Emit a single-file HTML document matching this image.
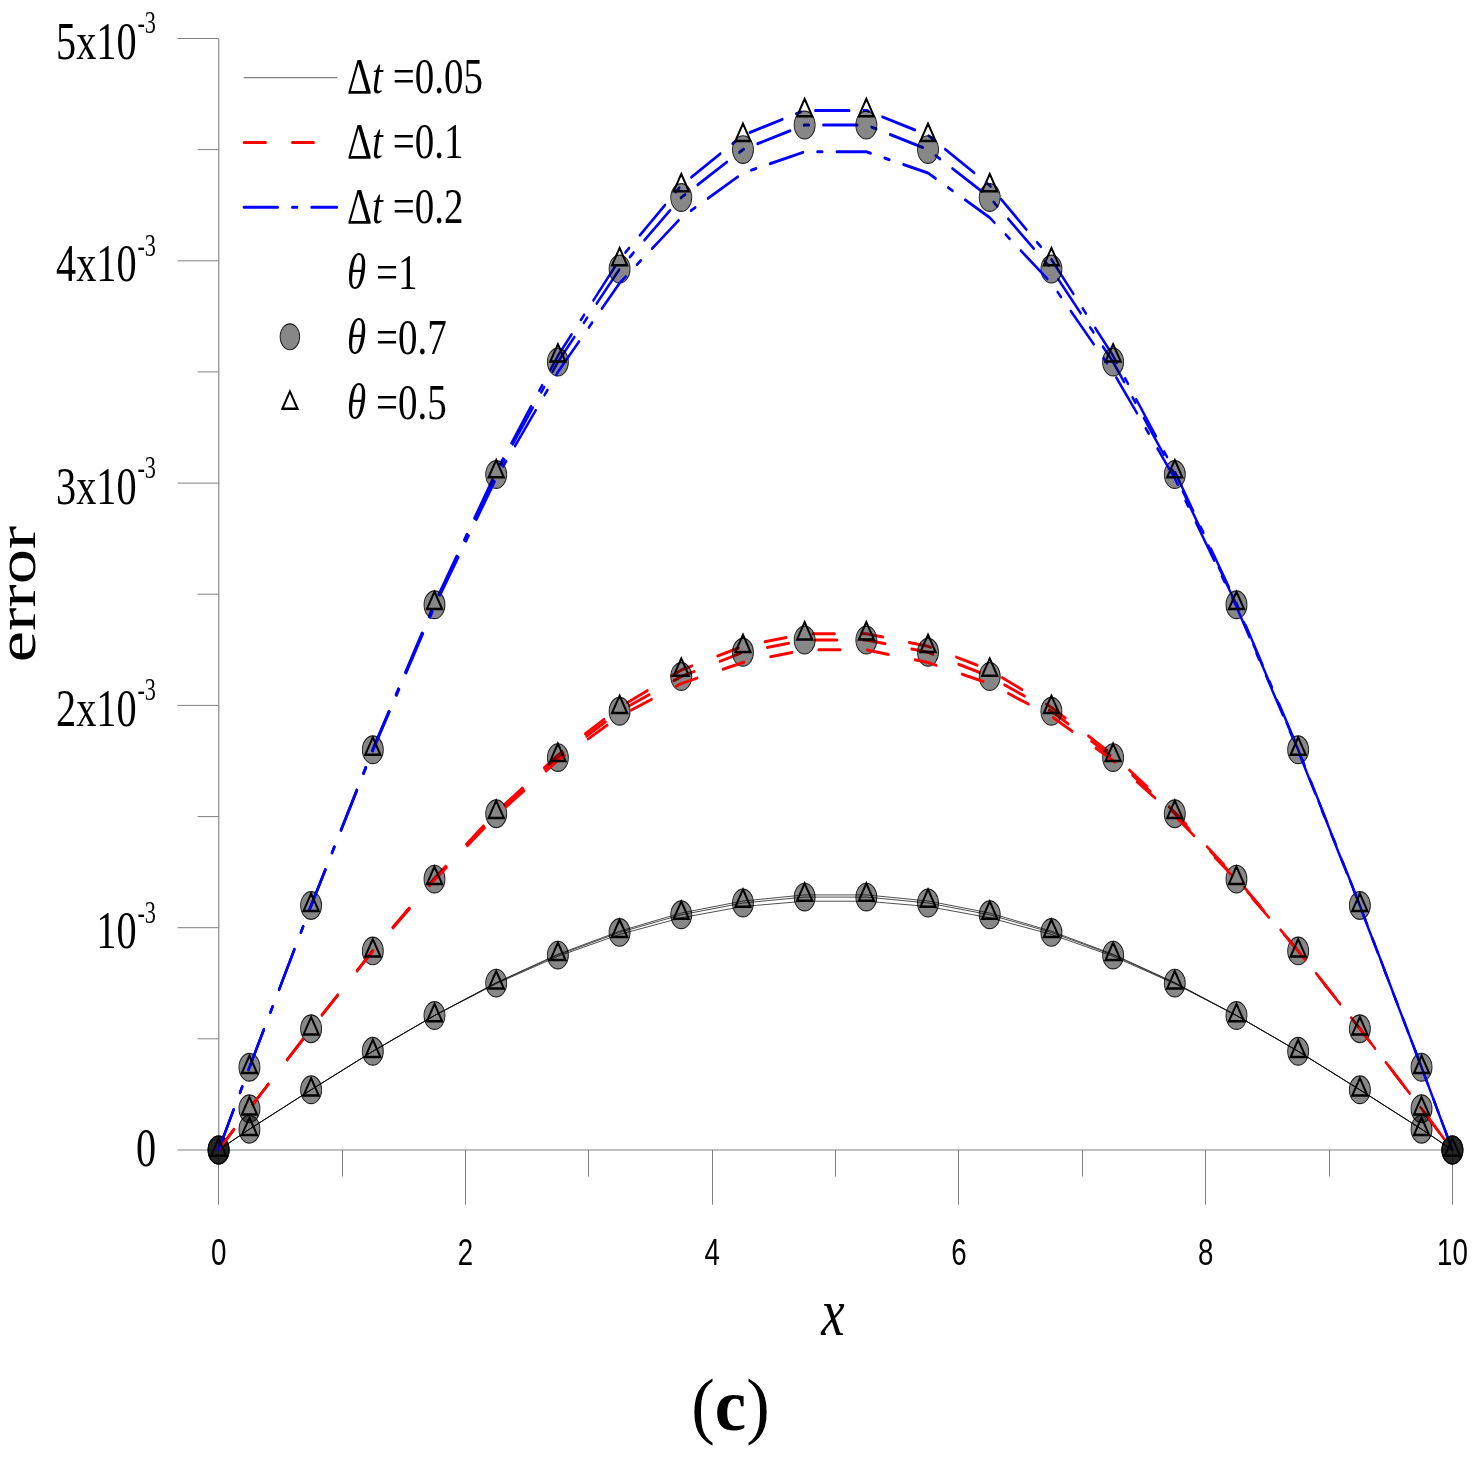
<!DOCTYPE html><html><head><meta charset="utf-8"><style>html,body{margin:0;padding:0;background:#fff;overflow:hidden;}svg{display:block;}</style></head><body>
<svg width="1480" height="1462" viewBox="0 0 1480 1462">
<rect width="1480" height="1462" fill="#fff"/>
<path d="M218.7 38.5V1150" stroke="#9a9a9a" stroke-width="1.4" fill="none"/>
<path d="M218.5 1150H1452.9" stroke="#808080" stroke-width="1" fill="none"/>
<path d="M177.6 1150.0H218.5 M197.6 1038.8H218.5 M177.6 927.7H218.5 M197.6 816.6H218.5 M177.6 705.4H218.5 M197.6 594.2H218.5 M177.6 483.1H218.5 M197.6 371.9H218.5 M177.6 260.8H218.5 M197.6 149.6H218.5 M177.6 38.5H218.5 M218.5 1150V1204.7 M342.5 1150V1176.5 M465.5 1150V1204.7 M588.5 1150V1176.5 M712.5 1150V1204.7 M835.5 1150V1176.5 M958.5 1150V1204.7 M1082.5 1150V1176.5 M1205.5 1150V1204.7 M1329.5 1150V1176.5 M1452.5 1150V1204.7" stroke="#808080" stroke-width="1" fill="none"/>
<g transform="scale(1,1.32)">
<polyline points="218.60,871.21 249.44,855.45 311.13,825.61 372.82,796.44 434.51,769.32 496.21,744.39 557.89,722.95 619.59,705.45 681.27,691.67 742.97,682.58 804.65,677.95 866.35,677.95 928.03,682.58 989.73,691.67 1051.41,705.45 1113.11,722.95 1174.79,744.39 1236.48,769.32 1298.17,796.44 1359.86,825.61 1421.55,855.45 1452.40,871.21" stroke="#000" stroke-width="0.6" fill="none"/>
<polyline points="218.60,871.21 249.44,839.92 311.13,779.32 372.82,720.15 434.51,665.23 496.21,615.30 557.89,572.05 619.59,535.83 681.27,507.58 742.97,489.62 804.65,480.08 866.35,480.08 928.03,489.62 989.73,507.58 1051.41,535.83 1113.11,572.05 1174.79,615.30 1236.48,665.23 1298.17,720.15 1359.86,779.32 1421.55,839.92 1452.40,871.21" stroke="#f00" stroke-width="2.3" fill="none" stroke-dasharray="21.89 26.6" stroke-linecap="round" stroke-linejoin="round"/>
<polyline points="218.60,871.21 249.44,808.56 311.13,685.76 372.82,567.42 434.51,457.05 496.21,357.20 557.89,269.55 619.59,196.59 681.27,140.53 742.97,102.42 804.65,83.64 866.35,83.64 928.03,102.42 989.73,140.53 1051.41,196.59 1113.11,269.55 1174.79,357.20 1236.48,457.05 1298.17,567.42 1359.86,685.76 1421.55,808.56 1452.40,871.21" stroke="#00f" stroke-width="2.3" fill="none" stroke-dasharray="34.04 14.46 4.92 14.46" stroke-linecap="round" stroke-linejoin="round"/>
<polyline points="218.60,871.21 249.44,855.45 311.13,825.61 372.82,796.44 434.51,769.32 496.21,744.77 557.89,723.56 619.59,706.36 681.27,693.03 742.97,684.09 804.65,679.62 866.35,679.62 928.03,684.09 989.73,693.03 1051.41,706.36 1113.11,723.56 1174.79,744.77 1236.48,769.32 1298.17,796.44 1359.86,825.61 1421.55,855.45 1452.40,871.21" stroke="#000" stroke-width="0.6" fill="none"/>
<polyline points="218.60,871.21 249.44,839.92 311.13,779.32 372.82,720.38 434.51,665.98 496.21,616.44 557.89,573.94 619.59,538.86 681.27,512.50 742.97,494.17 804.65,484.85 866.35,484.85 928.03,494.17 989.73,512.50 1051.41,538.86 1113.11,573.94 1174.79,616.44 1236.48,665.98 1298.17,720.38 1359.86,779.32 1421.55,839.92 1452.40,871.21" stroke="#f00" stroke-width="2.3" fill="none" stroke-dasharray="21.89 26.6" stroke-linecap="round" stroke-linejoin="round"/>
<polyline points="218.60,871.21 249.44,808.56 311.13,685.98 372.82,568.03 434.51,458.18 496.21,359.47 557.89,274.24 619.59,203.79 681.27,149.62 742.97,113.33 804.65,94.70 866.35,94.70 928.03,113.33 989.73,149.62 1051.41,203.79 1113.11,274.24 1174.79,359.47 1236.48,458.18 1298.17,568.03 1359.86,685.98 1421.55,808.56 1452.40,871.21" stroke="#00f" stroke-width="2.3" fill="none" stroke-dasharray="34.04 14.46 4.92 14.46" stroke-linecap="round" stroke-linejoin="round"/>
<circle cx="218.60" cy="871.21" r="10.5" fill="#000" fill-opacity="0.47" stroke="#000" stroke-opacity="0.85" stroke-width="0.9"/>
<circle cx="249.44" cy="855.45" r="10.5" fill="#000" fill-opacity="0.47" stroke="#000" stroke-opacity="0.85" stroke-width="0.9"/>
<circle cx="311.13" cy="825.61" r="10.5" fill="#000" fill-opacity="0.47" stroke="#000" stroke-opacity="0.85" stroke-width="0.9"/>
<circle cx="372.82" cy="796.44" r="10.5" fill="#000" fill-opacity="0.47" stroke="#000" stroke-opacity="0.85" stroke-width="0.9"/>
<circle cx="434.51" cy="769.32" r="10.5" fill="#000" fill-opacity="0.47" stroke="#000" stroke-opacity="0.85" stroke-width="0.9"/>
<circle cx="496.21" cy="744.77" r="10.5" fill="#000" fill-opacity="0.47" stroke="#000" stroke-opacity="0.85" stroke-width="0.9"/>
<circle cx="557.89" cy="723.56" r="10.5" fill="#000" fill-opacity="0.47" stroke="#000" stroke-opacity="0.85" stroke-width="0.9"/>
<circle cx="619.59" cy="706.36" r="10.5" fill="#000" fill-opacity="0.47" stroke="#000" stroke-opacity="0.85" stroke-width="0.9"/>
<circle cx="681.27" cy="693.03" r="10.5" fill="#000" fill-opacity="0.47" stroke="#000" stroke-opacity="0.85" stroke-width="0.9"/>
<circle cx="742.97" cy="684.09" r="10.5" fill="#000" fill-opacity="0.47" stroke="#000" stroke-opacity="0.85" stroke-width="0.9"/>
<circle cx="804.65" cy="679.62" r="10.5" fill="#000" fill-opacity="0.47" stroke="#000" stroke-opacity="0.85" stroke-width="0.9"/>
<circle cx="866.35" cy="679.62" r="10.5" fill="#000" fill-opacity="0.47" stroke="#000" stroke-opacity="0.85" stroke-width="0.9"/>
<circle cx="928.03" cy="684.09" r="10.5" fill="#000" fill-opacity="0.47" stroke="#000" stroke-opacity="0.85" stroke-width="0.9"/>
<circle cx="989.73" cy="693.03" r="10.5" fill="#000" fill-opacity="0.47" stroke="#000" stroke-opacity="0.85" stroke-width="0.9"/>
<circle cx="1051.41" cy="706.36" r="10.5" fill="#000" fill-opacity="0.47" stroke="#000" stroke-opacity="0.85" stroke-width="0.9"/>
<circle cx="1113.11" cy="723.56" r="10.5" fill="#000" fill-opacity="0.47" stroke="#000" stroke-opacity="0.85" stroke-width="0.9"/>
<circle cx="1174.79" cy="744.77" r="10.5" fill="#000" fill-opacity="0.47" stroke="#000" stroke-opacity="0.85" stroke-width="0.9"/>
<circle cx="1236.48" cy="769.32" r="10.5" fill="#000" fill-opacity="0.47" stroke="#000" stroke-opacity="0.85" stroke-width="0.9"/>
<circle cx="1298.17" cy="796.44" r="10.5" fill="#000" fill-opacity="0.47" stroke="#000" stroke-opacity="0.85" stroke-width="0.9"/>
<circle cx="1359.86" cy="825.61" r="10.5" fill="#000" fill-opacity="0.47" stroke="#000" stroke-opacity="0.85" stroke-width="0.9"/>
<circle cx="1421.55" cy="855.45" r="10.5" fill="#000" fill-opacity="0.47" stroke="#000" stroke-opacity="0.85" stroke-width="0.9"/>
<circle cx="1452.40" cy="871.21" r="10.5" fill="#000" fill-opacity="0.47" stroke="#000" stroke-opacity="0.85" stroke-width="0.9"/>
<circle cx="218.60" cy="871.21" r="10.5" fill="#000" fill-opacity="0.47" stroke="#000" stroke-opacity="0.85" stroke-width="0.9"/>
<circle cx="249.44" cy="839.92" r="10.5" fill="#000" fill-opacity="0.47" stroke="#000" stroke-opacity="0.85" stroke-width="0.9"/>
<circle cx="311.13" cy="779.32" r="10.5" fill="#000" fill-opacity="0.47" stroke="#000" stroke-opacity="0.85" stroke-width="0.9"/>
<circle cx="372.82" cy="720.38" r="10.5" fill="#000" fill-opacity="0.47" stroke="#000" stroke-opacity="0.85" stroke-width="0.9"/>
<circle cx="434.51" cy="665.98" r="10.5" fill="#000" fill-opacity="0.47" stroke="#000" stroke-opacity="0.85" stroke-width="0.9"/>
<circle cx="496.21" cy="616.44" r="10.5" fill="#000" fill-opacity="0.47" stroke="#000" stroke-opacity="0.85" stroke-width="0.9"/>
<circle cx="557.89" cy="573.94" r="10.5" fill="#000" fill-opacity="0.47" stroke="#000" stroke-opacity="0.85" stroke-width="0.9"/>
<circle cx="619.59" cy="538.86" r="10.5" fill="#000" fill-opacity="0.47" stroke="#000" stroke-opacity="0.85" stroke-width="0.9"/>
<circle cx="681.27" cy="512.50" r="10.5" fill="#000" fill-opacity="0.47" stroke="#000" stroke-opacity="0.85" stroke-width="0.9"/>
<circle cx="742.97" cy="494.17" r="10.5" fill="#000" fill-opacity="0.47" stroke="#000" stroke-opacity="0.85" stroke-width="0.9"/>
<circle cx="804.65" cy="484.85" r="10.5" fill="#000" fill-opacity="0.47" stroke="#000" stroke-opacity="0.85" stroke-width="0.9"/>
<circle cx="866.35" cy="484.85" r="10.5" fill="#000" fill-opacity="0.47" stroke="#000" stroke-opacity="0.85" stroke-width="0.9"/>
<circle cx="928.03" cy="494.17" r="10.5" fill="#000" fill-opacity="0.47" stroke="#000" stroke-opacity="0.85" stroke-width="0.9"/>
<circle cx="989.73" cy="512.50" r="10.5" fill="#000" fill-opacity="0.47" stroke="#000" stroke-opacity="0.85" stroke-width="0.9"/>
<circle cx="1051.41" cy="538.86" r="10.5" fill="#000" fill-opacity="0.47" stroke="#000" stroke-opacity="0.85" stroke-width="0.9"/>
<circle cx="1113.11" cy="573.94" r="10.5" fill="#000" fill-opacity="0.47" stroke="#000" stroke-opacity="0.85" stroke-width="0.9"/>
<circle cx="1174.79" cy="616.44" r="10.5" fill="#000" fill-opacity="0.47" stroke="#000" stroke-opacity="0.85" stroke-width="0.9"/>
<circle cx="1236.48" cy="665.98" r="10.5" fill="#000" fill-opacity="0.47" stroke="#000" stroke-opacity="0.85" stroke-width="0.9"/>
<circle cx="1298.17" cy="720.38" r="10.5" fill="#000" fill-opacity="0.47" stroke="#000" stroke-opacity="0.85" stroke-width="0.9"/>
<circle cx="1359.86" cy="779.32" r="10.5" fill="#000" fill-opacity="0.47" stroke="#000" stroke-opacity="0.85" stroke-width="0.9"/>
<circle cx="1421.55" cy="839.92" r="10.5" fill="#000" fill-opacity="0.47" stroke="#000" stroke-opacity="0.85" stroke-width="0.9"/>
<circle cx="1452.40" cy="871.21" r="10.5" fill="#000" fill-opacity="0.47" stroke="#000" stroke-opacity="0.85" stroke-width="0.9"/>
<circle cx="218.60" cy="871.21" r="10.5" fill="#000" fill-opacity="0.47" stroke="#000" stroke-opacity="0.85" stroke-width="0.9"/>
<circle cx="249.44" cy="808.56" r="10.5" fill="#000" fill-opacity="0.47" stroke="#000" stroke-opacity="0.85" stroke-width="0.9"/>
<circle cx="311.13" cy="685.98" r="10.5" fill="#000" fill-opacity="0.47" stroke="#000" stroke-opacity="0.85" stroke-width="0.9"/>
<circle cx="372.82" cy="568.03" r="10.5" fill="#000" fill-opacity="0.47" stroke="#000" stroke-opacity="0.85" stroke-width="0.9"/>
<circle cx="434.51" cy="458.18" r="10.5" fill="#000" fill-opacity="0.47" stroke="#000" stroke-opacity="0.85" stroke-width="0.9"/>
<circle cx="496.21" cy="359.47" r="10.5" fill="#000" fill-opacity="0.47" stroke="#000" stroke-opacity="0.85" stroke-width="0.9"/>
<circle cx="557.89" cy="274.24" r="10.5" fill="#000" fill-opacity="0.47" stroke="#000" stroke-opacity="0.85" stroke-width="0.9"/>
<circle cx="619.59" cy="203.79" r="10.5" fill="#000" fill-opacity="0.47" stroke="#000" stroke-opacity="0.85" stroke-width="0.9"/>
<circle cx="681.27" cy="149.62" r="10.5" fill="#000" fill-opacity="0.47" stroke="#000" stroke-opacity="0.85" stroke-width="0.9"/>
<circle cx="742.97" cy="113.33" r="10.5" fill="#000" fill-opacity="0.47" stroke="#000" stroke-opacity="0.85" stroke-width="0.9"/>
<circle cx="804.65" cy="94.70" r="10.5" fill="#000" fill-opacity="0.47" stroke="#000" stroke-opacity="0.85" stroke-width="0.9"/>
<circle cx="866.35" cy="94.70" r="10.5" fill="#000" fill-opacity="0.47" stroke="#000" stroke-opacity="0.85" stroke-width="0.9"/>
<circle cx="928.03" cy="113.33" r="10.5" fill="#000" fill-opacity="0.47" stroke="#000" stroke-opacity="0.85" stroke-width="0.9"/>
<circle cx="989.73" cy="149.62" r="10.5" fill="#000" fill-opacity="0.47" stroke="#000" stroke-opacity="0.85" stroke-width="0.9"/>
<circle cx="1051.41" cy="203.79" r="10.5" fill="#000" fill-opacity="0.47" stroke="#000" stroke-opacity="0.85" stroke-width="0.9"/>
<circle cx="1113.11" cy="274.24" r="10.5" fill="#000" fill-opacity="0.47" stroke="#000" stroke-opacity="0.85" stroke-width="0.9"/>
<circle cx="1174.79" cy="359.47" r="10.5" fill="#000" fill-opacity="0.47" stroke="#000" stroke-opacity="0.85" stroke-width="0.9"/>
<circle cx="1236.48" cy="458.18" r="10.5" fill="#000" fill-opacity="0.47" stroke="#000" stroke-opacity="0.85" stroke-width="0.9"/>
<circle cx="1298.17" cy="568.03" r="10.5" fill="#000" fill-opacity="0.47" stroke="#000" stroke-opacity="0.85" stroke-width="0.9"/>
<circle cx="1359.86" cy="685.98" r="10.5" fill="#000" fill-opacity="0.47" stroke="#000" stroke-opacity="0.85" stroke-width="0.9"/>
<circle cx="1421.55" cy="808.56" r="10.5" fill="#000" fill-opacity="0.47" stroke="#000" stroke-opacity="0.85" stroke-width="0.9"/>
<circle cx="1452.40" cy="871.21" r="10.5" fill="#000" fill-opacity="0.47" stroke="#000" stroke-opacity="0.85" stroke-width="0.9"/>
<polyline points="218.60,871.21 249.44,855.45 311.13,825.61 372.82,796.44 434.51,769.32 496.21,745.23 557.89,724.47 619.59,707.88 681.27,695.30 742.97,686.74 804.65,682.73 866.35,682.73 928.03,686.74 989.73,695.30 1051.41,707.88 1113.11,724.47 1174.79,745.23 1236.48,769.32 1298.17,796.44 1359.86,825.61 1421.55,855.45 1452.40,871.21" stroke="#000" stroke-width="0.6" fill="none"/>
<polyline points="218.60,871.21 249.44,839.92 311.13,779.32 372.82,720.61 434.51,666.74 496.21,617.95 557.89,576.21 619.59,542.65 681.27,517.88 742.97,501.89 804.65,492.27 866.35,492.27 928.03,501.89 989.73,517.88 1051.41,542.65 1113.11,576.21 1174.79,617.95 1236.48,666.74 1298.17,720.61 1359.86,779.32 1421.55,839.92 1452.40,871.21" stroke="#f00" stroke-width="2.3" fill="none" stroke-dasharray="21.89 26.6" stroke-linecap="round" stroke-linejoin="round"/>
<polyline points="218.60,871.21 249.44,808.56 311.13,686.36 372.82,568.79 434.51,459.70 496.21,362.50 557.89,281.82 619.59,214.47 681.27,164.85 742.97,131.06 804.65,115.00 866.35,115.00 928.03,131.06 989.73,164.85 1051.41,214.47 1113.11,281.82 1174.79,362.50 1236.48,459.70 1298.17,568.79 1359.86,686.36 1421.55,808.56 1452.40,871.21" stroke="#00f" stroke-width="2.3" fill="none" stroke-dasharray="34.04 14.46 4.92 14.46" stroke-linecap="round" stroke-linejoin="round"/>
<path d="M218.60 862.44L226.20 875.60L211.00 875.60ZM249.44 846.68L257.05 859.84L241.84 859.84ZM311.13 816.83L318.74 829.99L303.53 829.99ZM372.82 787.66L380.43 800.83L365.22 800.83ZM434.51 760.54L442.12 773.71L426.91 773.71ZM496.21 735.62L503.81 748.78L488.61 748.78ZM557.89 714.18L565.50 727.34L550.29 727.34ZM619.59 696.68L627.19 709.84L611.99 709.84ZM681.27 682.89L688.88 696.05L673.67 696.05ZM742.97 673.80L750.57 686.96L735.37 686.96ZM804.65 669.18L812.25 682.34L797.05 682.34ZM866.35 669.18L873.95 682.34L858.75 682.34ZM928.03 673.80L935.63 686.96L920.43 686.96ZM989.73 682.89L997.33 696.05L982.12 696.05ZM1051.41 696.68L1059.01 709.84L1043.82 709.84ZM1113.11 714.18L1120.70 727.34L1105.51 727.34ZM1174.79 735.62L1182.39 748.78L1167.19 748.78ZM1236.48 760.54L1244.08 773.71L1228.88 773.71ZM1298.17 787.66L1305.77 800.83L1290.58 800.83ZM1359.86 816.83L1367.46 829.99L1352.26 829.99ZM1421.55 846.68L1429.15 859.84L1413.95 859.84ZM1452.40 862.44L1460.00 875.60L1444.80 875.60ZM218.60 862.44L226.20 875.60L211.00 875.60ZM249.44 831.15L257.05 844.31L241.84 844.31ZM311.13 770.54L318.74 783.71L303.53 783.71ZM372.82 711.38L380.43 724.54L365.22 724.54ZM434.51 656.45L442.12 669.62L426.91 669.62ZM496.21 606.53L503.81 619.69L488.61 619.69ZM557.89 563.27L565.50 576.43L550.29 576.43ZM619.59 527.06L627.19 540.22L611.99 540.22ZM681.27 498.80L688.88 511.96L673.67 511.96ZM742.97 480.85L750.57 494.01L735.37 494.01ZM804.65 471.30L812.25 484.46L797.05 484.46ZM866.35 471.30L873.95 484.46L858.75 484.46ZM928.03 480.85L935.63 494.01L920.43 494.01ZM989.73 498.80L997.33 511.96L982.12 511.96ZM1051.41 527.06L1059.01 540.22L1043.82 540.22ZM1113.11 563.27L1120.70 576.43L1105.51 576.43ZM1174.79 606.53L1182.39 619.69L1167.19 619.69ZM1236.48 656.45L1244.08 669.62L1228.88 669.62ZM1298.17 711.38L1305.77 724.54L1290.58 724.54ZM1359.86 770.54L1367.46 783.71L1352.26 783.71ZM1421.55 831.15L1429.15 844.31L1413.95 844.31ZM1452.40 862.44L1460.00 875.60L1444.80 875.60ZM218.60 862.44L226.20 875.60L211.00 875.60ZM249.44 799.78L257.05 812.95L241.84 812.95ZM311.13 676.98L318.74 690.15L303.53 690.15ZM372.82 558.65L380.43 571.81L365.22 571.81ZM434.51 448.27L442.12 461.43L426.91 461.43ZM496.21 348.42L503.81 361.58L488.61 361.58ZM557.89 260.77L565.50 273.93L550.29 273.93ZM619.59 187.82L627.19 200.98L611.99 200.98ZM681.27 131.75L688.88 144.92L673.67 144.92ZM742.97 93.65L750.57 106.81L735.37 106.81ZM804.65 74.86L812.25 88.02L797.05 88.02ZM866.35 74.86L873.95 88.02L858.75 88.02ZM928.03 93.65L935.63 106.81L920.43 106.81ZM989.73 131.75L997.33 144.92L982.12 144.92ZM1051.41 187.82L1059.01 200.98L1043.82 200.98ZM1113.11 260.77L1120.70 273.93L1105.51 273.93ZM1174.79 348.42L1182.39 361.58L1167.19 361.58ZM1236.48 448.27L1244.08 461.43L1228.88 461.43ZM1298.17 558.65L1305.77 571.81L1290.58 571.81ZM1359.86 676.98L1367.46 690.15L1352.26 690.15ZM1421.55 799.78L1429.15 812.95L1413.95 812.95ZM1452.40 862.44L1460.00 875.60L1444.80 875.60Z" fill="none" stroke="#000" stroke-width="1.9" stroke-linejoin="miter"/>
<path d="M243.7 58.79H337.2" stroke="#808080" stroke-width="1"/>
<path d="M243.95 107.88H313.7" stroke="#f00" stroke-width="2.3" stroke-dasharray="21.8 26.5" stroke-linecap="round"/>
<path d="M243.95 157.05H337" stroke="#00f" stroke-width="2.3" stroke-dasharray="33.9 14.4 4.9 14.4" stroke-linecap="round"/>
<circle cx="289.9" cy="255.15" r="9.8" fill="#000" fill-opacity="0.47" stroke="#000" stroke-opacity="0.85" stroke-width="0.9"/>
<path d="M289.90 296.53L297.50 309.69L282.30 309.69Z" fill="none" stroke="#000" stroke-width="1.9"/>
</g>
<text transform="translate(347,93) scale(1,1.3)" font-size="39" font-family="&quot;Liberation Serif&quot;, serif" text-anchor="start" ><tspan>Δ</tspan><tspan font-style="italic">t</tspan> =0.05</text>
<text transform="translate(347,158) scale(1,1.3)" font-size="39" font-family="&quot;Liberation Serif&quot;, serif" text-anchor="start" ><tspan>Δ</tspan><tspan font-style="italic">t</tspan> =0.1</text>
<text transform="translate(347,223) scale(1,1.3)" font-size="39" font-family="&quot;Liberation Serif&quot;, serif" text-anchor="start" ><tspan>Δ</tspan><tspan font-style="italic">t</tspan> =0.2</text>
<text transform="translate(347,288.8) scale(1,1.3)" font-size="39" font-family="&quot;Liberation Serif&quot;, serif" text-anchor="start" ><tspan font-style="italic">θ</tspan> =1</text>
<text transform="translate(347,353.8) scale(1,1.3)" font-size="39" font-family="&quot;Liberation Serif&quot;, serif" text-anchor="start" ><tspan font-style="italic">θ</tspan> =0.7</text>
<text transform="translate(347,418.8) scale(1,1.3)" font-size="39" font-family="&quot;Liberation Serif&quot;, serif" text-anchor="start" ><tspan font-style="italic">θ</tspan> =0.5</text>
<text transform="translate(136.6,59.0) scale(1,1.311)" font-size="40.3" font-family="&quot;Liberation Serif&quot;, serif" text-anchor="end" >5x10</text>
<text transform="translate(137.4,33.3) scale(1,1.41)" font-size="22.2" font-family="&quot;Liberation Serif&quot;, serif" text-anchor="start" >-3</text>
<text transform="translate(136.6,281.3) scale(1,1.311)" font-size="40.3" font-family="&quot;Liberation Serif&quot;, serif" text-anchor="end" >4x10</text>
<text transform="translate(137.4,255.6) scale(1,1.41)" font-size="22.2" font-family="&quot;Liberation Serif&quot;, serif" text-anchor="start" >-3</text>
<text transform="translate(136.6,503.6) scale(1,1.311)" font-size="40.3" font-family="&quot;Liberation Serif&quot;, serif" text-anchor="end" >3x10</text>
<text transform="translate(137.4,477.9) scale(1,1.41)" font-size="22.2" font-family="&quot;Liberation Serif&quot;, serif" text-anchor="start" >-3</text>
<text transform="translate(136.6,725.9) scale(1,1.311)" font-size="40.3" font-family="&quot;Liberation Serif&quot;, serif" text-anchor="end" >2x10</text>
<text transform="translate(137.4,700.2) scale(1,1.41)" font-size="22.2" font-family="&quot;Liberation Serif&quot;, serif" text-anchor="start" >-3</text>
<text transform="translate(136.6,948.2) scale(1,1.311)" font-size="40.3" font-family="&quot;Liberation Serif&quot;, serif" text-anchor="end" >10</text>
<text transform="translate(137.4,922.5) scale(1,1.41)" font-size="22.2" font-family="&quot;Liberation Serif&quot;, serif" text-anchor="start" >-3</text>
<text transform="translate(156.2,1166.3) scale(1,1.34)" font-size="40.3" font-family="&quot;Liberation Serif&quot;, serif" text-anchor="end" >0</text>
<text transform="translate(218.6,1264.6) scale(0.99,1.3)" font-size="28" font-family="&quot;Liberation Sans&quot;, sans-serif" text-anchor="middle">0</text>
<text transform="translate(465.4,1264.6) scale(0.99,1.3)" font-size="28" font-family="&quot;Liberation Sans&quot;, sans-serif" text-anchor="middle">2</text>
<text transform="translate(712.1,1264.6) scale(0.99,1.3)" font-size="28" font-family="&quot;Liberation Sans&quot;, sans-serif" text-anchor="middle">4</text>
<text transform="translate(958.9,1264.6) scale(0.99,1.3)" font-size="28" font-family="&quot;Liberation Sans&quot;, sans-serif" text-anchor="middle">6</text>
<text transform="translate(1205.6,1264.6) scale(0.99,1.3)" font-size="28" font-family="&quot;Liberation Sans&quot;, sans-serif" text-anchor="middle">8</text>
<text transform="translate(1452.4,1264.6) scale(0.99,1.3)" font-size="28" font-family="&quot;Liberation Sans&quot;, sans-serif" text-anchor="middle">10</text>
<text transform="translate(833,1335) scale(1,1.29)" font-size="52.6" font-family="&quot;Liberation Serif&quot;, serif" text-anchor="middle" font-style="italic">x</text>
<text transform="translate(35,594) scale(1,1.3) rotate(-90)" font-size="54" font-family="&quot;Liberation Serif&quot;, serif" text-anchor="middle">error</text>
<text transform="translate(730.5,1430.2) scale(1,1.062)" font-size="70.6" font-family="&quot;Liberation Serif&quot;, serif" text-anchor="middle" >(<tspan font-weight="bold">c</tspan>)</text>
</svg></body></html>
